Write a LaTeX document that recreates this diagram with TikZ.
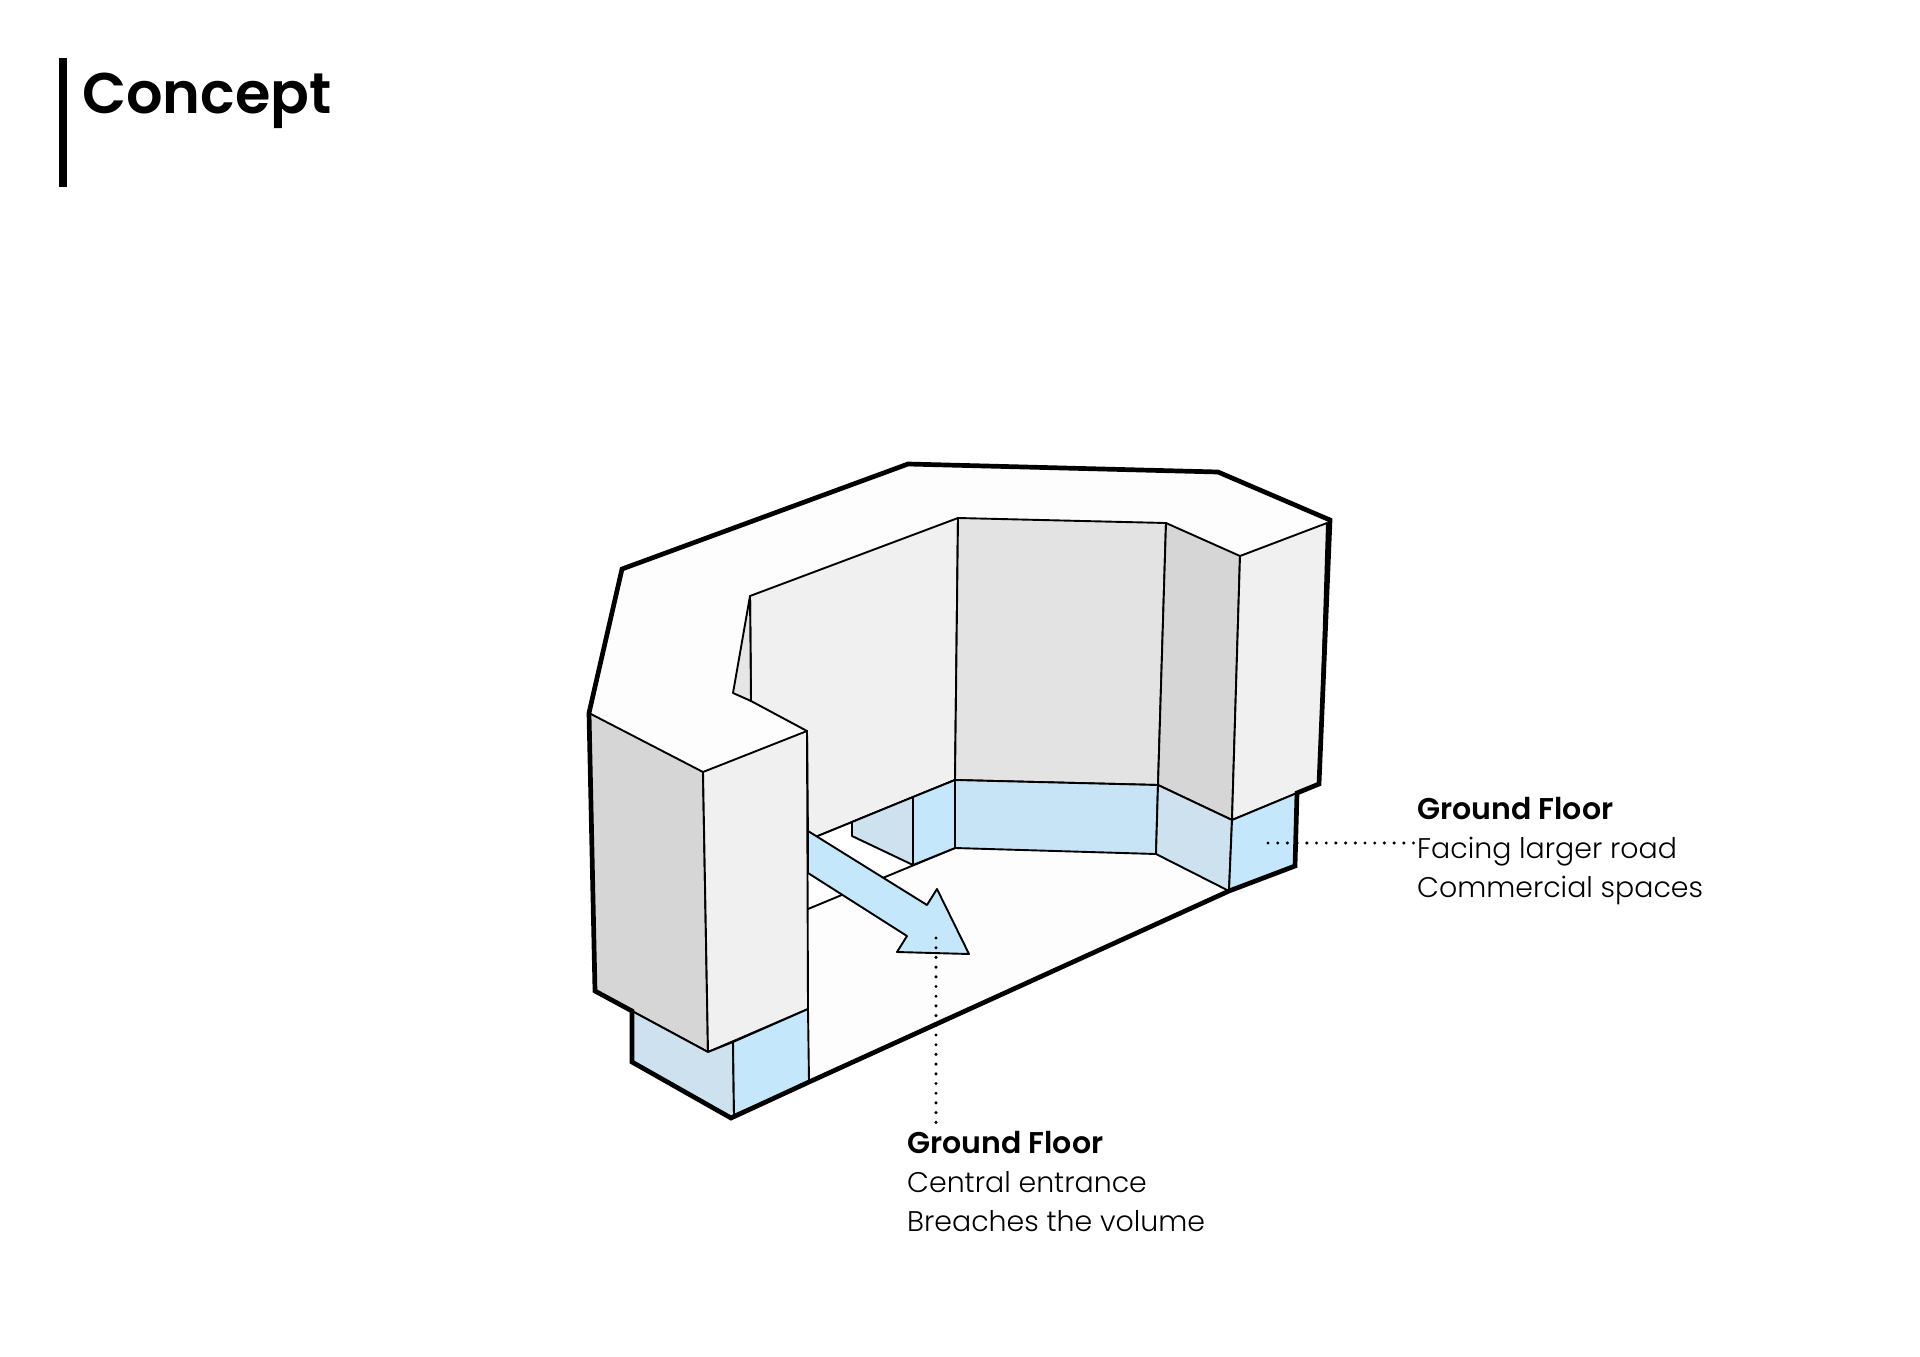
\documentclass[tikz,border=0pt]{standalone}
\usepackage{fontspec}
\setmainfont{Poppins Light}[BoldFont=Poppins SemiBold]
\newfontfamily\titlefont{Poppins SemiBold}
\newcommand{\floorhead}[1]{{\fontsize{30}{39}\selectfont\textbf{#1}}}
\usetikzlibrary{positioning}
\definecolor{topwhite}{HTML}{FDFDFD}
\definecolor{walllight}{HTML}{F0F0F0}
\definecolor{wallback}{HTML}{E3E3E3}
\definecolor{walldark}{HTML}{D6D6D6}
\definecolor{glassback}{HTML}{C6E4F5}
\definecolor{glassbright}{HTML}{C4E7FB}
\definecolor{glassdull}{HTML}{CDE2EE}

\begin{document}
\begin{tikzpicture}[x=1pt, y=-1pt,
    face/.style={draw=black, line width=1.9pt, line join=round},
    outline/.style={draw=black, line width=4.7pt, line join=miter},
    leader/.style={line width=3.4pt, line cap=round, dash pattern=on 0pt off 9.7pt},
    floorlabel/.style={inner sep=0pt, align=left, font=\fontsize{28.4}{39}\selectfont}]
    \useasboundingbox (0,0) rectangle (1920,1357);

    % Titulo
    \fill (59,58) rectangle (67,187);
    \node (title) [anchor=base west, inner sep=0pt, font=\fontsize{57.3}{60}\selectfont\titlefont] at (82,113) {Concept};

    % Planta superior y suelo
    \fill[topwhite] (622,569) -- (908,464) -- (1218,472) -- (1330,520) -- (1319,784) -- (1297,793) -- (1295,866) -- (1229,891) -- (809,1082) -- (731,1118) -- (632,1062) -- (632,1011) -- (595,991) -- (589,713) -- cycle;

    % Muros interiores
    \path[face, fill=walllight] (750,596) -- (958,518) -- (955,780) -- (808,840) -- (807,731) -- (751,701) -- cycle;
    \path[face, fill=wallback] (958,518) -- (1166,523) -- (1158,785) -- (955,780) -- cycle;
    \path[face, fill=walldark!60] (750,596) -- (733,693) -- (751,701) -- cycle;
    \path[face, fill=walldark] (1166,523) -- (1240,556) -- (1232,820) -- (1158,785) -- cycle;
    \path[face, fill=walllight] (1240,556) -- (1327,523) -- (1319,784) -- (1297,793) -- (1232,820) -- cycle;

    % Planta baja de vidrio
    \path[face, fill=glassback] (955,780) -- (1158,785) -- (1156,854) -- (955,848) -- cycle;
    \path[face, fill=glassdull] (1158,785) -- (1232,820) -- (1229,891) -- (1156,854) -- cycle;
    \path[face, fill=glassbright] (1232,820) -- (1297,793) -- (1295,866) -- (1229,891) -- cycle;
    \fill[white] (808,840) -- (955,780) -- (955,848) -- (808,909) -- cycle;
    \draw[face] (808,840) -- (955,780);
    \draw[face] (955,848) -- (808,909);
    \path[face, fill=glassbright] (913,797) -- (955,780) -- (955,848) -- (913,865) -- cycle;
    \path[face, fill=glassdull] (852,822) -- (913,797) -- (913,865) -- (852,836) -- cycle;

    % Flecha de entrada
    \path[face, fill=glassbright] (808,831) -- (927,905) -- (937,889) -- (969,954) -- (897,952) -- (907,936) -- (808,873) -- cycle;

    % Torre izquierda
    \path[face, fill=walldark] (589,713) -- (703,772) -- (708,1052) -- (595,991) -- cycle;
    \path[face, fill=walllight] (703,772) -- (807,731) -- (808,1009) -- (708,1052) -- cycle;
    \path[face, fill=glassdull] (632,1011) -- (708,1052) -- (733,1042) -- (734,1115) -- (731,1118) -- (632,1062) -- cycle;
    \path[face, fill=glassbright] (733,1042) -- (808,1009) -- (809,1082) -- (734,1115) -- cycle;

    % Contorno
    \draw[outline] (622,569) -- (908,464) -- (1218,472) -- (1330,520) -- (1319,784) -- (1297,793) -- (1295,866) -- (1229,891) -- (809,1082) -- (731,1118) -- (632,1062) -- (632,1011) -- (595,991) -- (589,713) -- cycle;

    % Textos
    \node (entrance) [floorlabel, anchor=north west] at (907,1131) {\floorhead{Ground Floor}\\Central entrance\\Breaches the volume};
    \node (road) [floorlabel, anchor=north west] at (1417,797) {\floorhead{Ground Floor}\\Facing larger road\\Commercial spaces};

    % Lineas de puntos
    \coordinate (arrowdot) at (936,938);
    \coordinate (glassdot) at (1268,843);
    \draw[leader, shorten >=7pt] (arrowdot) -- (arrowdot |- entrance.north);
    \draw[leader] (glassdot) -- (glassdot -| road.west);
\end{tikzpicture}
\end{document}
